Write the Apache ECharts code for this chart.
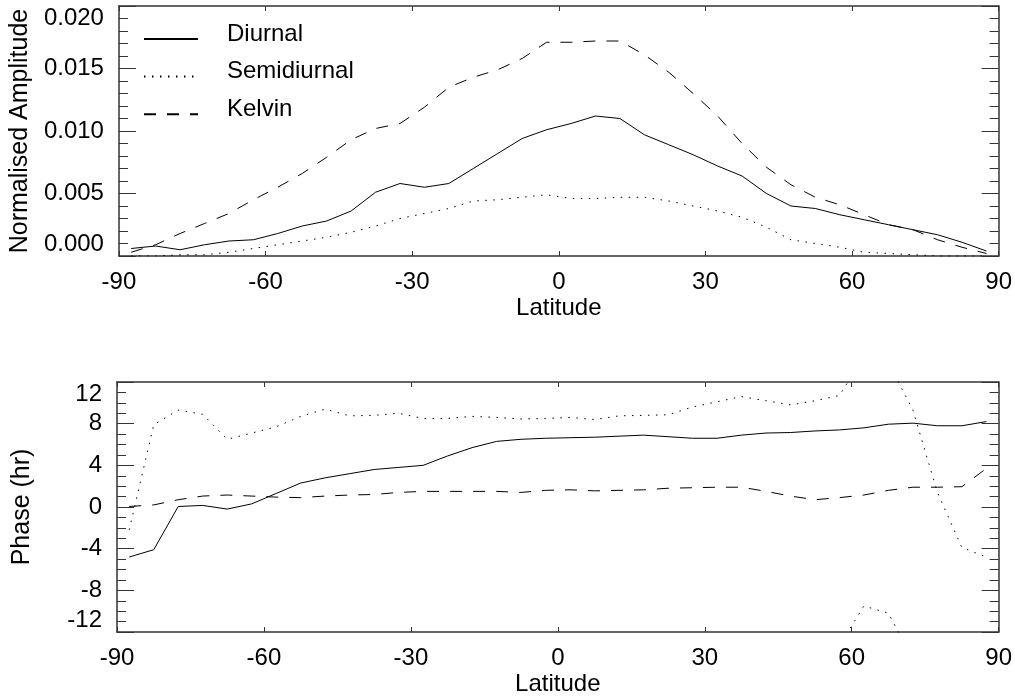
<!DOCTYPE html>
<html>
<head>
<meta charset="utf-8">
<script src="https://cdn.jsdelivr.net/npm/echarts@6/dist/echarts.min.js"></script>
<style>
    html, body { margin: 0; padding: 0; background: #fff; }
    #chart { width: 1015px; height: 697px; }
</style>
</head>
<body>
<div id="chart"></div>
<script>
// latitude of each sample (deg)
var latitudes = [-87.5, -82.5, -77.5, -72.5, -67.5, -62.5, -57.5, -52.5, -47.5, -42.5, -37.5, -32.5,
                 -27.5, -22.5, -17.5, -12.5, -7.5, -2.5, 2.5, 7.5, 12.5, 17.5, 22.5, 27.5,
                 32.5, 37.5, 42.5, 47.5, 52.5, 57.5, 62.5, 67.5, 72.5, 77.5, 82.5, 87.5];

// normalised amplitude
var ampDiurnal = [0.0006, 0.0008, 0.0005, 0.0009, 0.0012, 0.0013, 0.0018, 0.0024, 0.0028, 0.0036, 0.0051, 0.0058,
                  0.0055, 0.0058, 0.0070, 0.0082, 0.0094, 0.0101, 0.0106, 0.0112, 0.0110, 0.0097, 0.0089, 0.0081,
                  0.0072, 0.0064, 0.0050, 0.0040, 0.0038, 0.0033, 0.0029, 0.0025, 0.0021, 0.0017, 0.0011, 0.0004];
var ampSemidiurnal = [0.0000, 0.0000, 0.0001, 0.0001, 0.0003, 0.0006, 0.0009, 0.0012, 0.0015, 0.0019, 0.0024, 0.0030,
                      0.0034, 0.0038, 0.0044, 0.0045, 0.0047, 0.0049, 0.0046, 0.0046, 0.0047, 0.0047, 0.0044, 0.0040,
                      0.0036, 0.0031, 0.0023, 0.0013, 0.0010, 0.0007, 0.0003, 0.0002, 0.0001, 0.0000, 0.0000, 0.0000];
var ampKelvin = [0.0003, 0.0009, 0.0018, 0.0026, 0.0034, 0.0045, 0.0055, 0.0066, 0.0079, 0.0093, 0.0102, 0.0106,
                 0.0119, 0.0135, 0.0143, 0.0149, 0.0158, 0.0171, 0.0171, 0.0172, 0.0172, 0.0161, 0.0147, 0.0130,
                 0.0112, 0.0090, 0.0071, 0.0057, 0.0047, 0.0041, 0.0033, 0.0025, 0.0021, 0.0013, 0.0007, 0.0002];

// phase (hr), unwrapped
var phaseDiurnal = [-4.8, -4.1, 0.05, 0.15, -0.2, 0.3, 1.3, 2.3, 2.8, 3.2, 3.6, 3.8,
                    4.0, 4.9, 5.7, 6.3, 6.5, 6.6, 6.65, 6.7, 6.8, 6.9, 6.75, 6.6,
                    6.6, 6.9, 7.1, 7.15, 7.3, 7.4, 7.6, 7.95, 8.05, 7.8, 7.8, 8.2];
var phaseSemidiurnal = [-2.2, 7.9, 9.3, 8.9, 6.5, 7.1, 7.7, 8.7, 9.4, 8.75, 8.8, 9.0,
                        8.5, 8.5, 8.7, 8.6, 8.45, 8.5, 8.6, 8.4, 8.75, 8.8, 8.85, 9.6,
                        10.1, 10.6, 10.2, 9.8, 10.2, 10.7, 14.5, 13.8, 9.3, 1.4, -3.9, -4.8];
var phaseKelvin = [0.05, 0.2, 0.7, 1.05, 1.15, 1.05, 0.95, 0.9, 1.05, 1.15, 1.2, 1.4,
                   1.5, 1.5, 1.5, 1.5, 1.4, 1.6, 1.65, 1.55, 1.6, 1.65, 1.8, 1.85,
                   1.9, 1.9, 1.5, 1.05, 0.7, 0.9, 1.15, 1.6, 1.9, 1.9, 1.95, 3.7];

var seriesNames = ['Diurnal', 'Semidiurnal', 'Kelvin'];
var phasePeriod = 24;

var FONT = "'Liberation Sans', Arial, sans-serif";
var AXIS_COLOR = '#333';
var dashTypes = ['solid', [1.5, 6.5], [12, 11]];

function latAxis(grid, position) {
    var main = position === 'bottom';
    return {
        type: 'value',
        gridIndex: grid,
        position: position,
        min: -90,
        max: 90,
        interval: 30,
        name: main ? 'Latitude' : '',
        nameLocation: 'middle',
        nameGap: 40,
        nameTextStyle: { fontFamily: FONT, fontSize: 24, color: '#000' },
        axisLine: { show: true, onZero: false, lineStyle: { color: AXIS_COLOR, width: 1.5 } },
        axisTick: { show: true, inside: true, length: 5, lineStyle: { color: AXIS_COLOR } },
        axisLabel: { show: main, margin: 14, fontFamily: FONT, fontSize: 24, color: '#000' },
        splitLine: { show: false }
    };
}

function valueAxis(grid, position, min, max, interval, minorSplit, name, formatter) {
    var main = position === 'left';
    return {
        type: 'value',
        gridIndex: grid,
        position: position,
        min: min,
        max: max,
        interval: interval,
        name: main ? name : '',
        nameLocation: 'middle',
        nameGap: 82,
        nameTextStyle: { fontFamily: FONT, fontSize: 25, color: '#000' },
        axisLine: { show: true, onZero: false, lineStyle: { color: AXIS_COLOR, width: 1.5 } },
        axisTick: { show: true, inside: true, length: 17, lineStyle: { color: AXIS_COLOR } },
        minorTick: { show: true, splitNumber: minorSplit, length: 9, lineStyle: { color: AXIS_COLOR } },
        axisLabel: {
            show: main,
            margin: 15,
            fontFamily: FONT,
            fontSize: 24,
            color: '#000',
            formatter: formatter,
            verticalAlignMinLabel: 'bottom',
            verticalAlignMaxLabel: 'top'
        },
        splitLine: { show: false },
        minorSplitLine: { show: false }
    };
}

function lineSeries(name, grid, values, dash) {
    return {
        name: name,
        type: 'line',
        xAxisIndex: grid * 2,
        yAxisIndex: grid * 2,
        data: latitudes.map(function (lat, i) { return [lat, values[i]]; }),
        symbol: 'none',
        clip: true,
        silent: true,
        itemStyle: { color: '#000' },
        lineStyle: { color: '#000', width: 1, type: dash }
    };
}

var amplitudes = [ampDiurnal, ampSemidiurnal, ampKelvin];
var phases = [phaseDiurnal, phaseSemidiurnal, phaseKelvin];
var series = [];

seriesNames.forEach(function (name, i) {
    series.push(lineSeries(name, 0, amplitudes[i], dashTypes[i]));
});
seriesNames.forEach(function (name, i) {
    series.push(lineSeries(name, 1, phases[i], dashTypes[i]));
    // phase wraps round: draw the copy one period lower too
    series.push(lineSeries(name, 1, phases[i].map(function (v) { return v - phasePeriod; }), dashTypes[i]));
});

var options = {
    animation: false,
    backgroundColor: '#fff',
    grid: [
        { left: 117, top: 6, width: 882, height: 250 },
        { left: 117, top: 382, width: 882, height: 250 }
    ],
    legend: {
        orient: 'vertical',
        left: 143,
        top: 22,
        padding: 0,
        itemWidth: 54,
        itemHeight: 24,
        itemGap: 11,
        selectedMode: false,
        data: seriesNames,
        itemStyle: { opacity: 0 },
        formatter: function (name) { return '{t|' + name + '}'; },
        textStyle: {
            fontFamily: FONT,
            fontSize: 24,
            color: '#000',
            padding: [0, 0, 0, 24],
            rich: { t: { fontFamily: FONT, fontSize: 24, color: '#000', padding: [0, 0, 10, 0] } }
        }
    },
    xAxis: [
        latAxis(0, 'bottom'),
        latAxis(0, 'top'),
        latAxis(1, 'bottom'),
        latAxis(1, 'top')
    ],
    yAxis: [
        valueAxis(0, 'left', 0, 0.02, 0.005, 5, 'Normalised Amplitude', function (v) { return v.toFixed(3); }),
        valueAxis(0, 'right', 0, 0.02, 0.005, 5, '', null),
        valueAxis(1, 'left', -12, 12, 4, 4, 'Phase (hr)', function (v) { return String(v); }),
        valueAxis(1, 'right', -12, 12, 4, 4, '', null)
    ],
    series: series
};

var chart = echarts.init(document.getElementById('chart'), null, { renderer: 'canvas' });
chart.setOption(options);
</script>
</body>
</html>
